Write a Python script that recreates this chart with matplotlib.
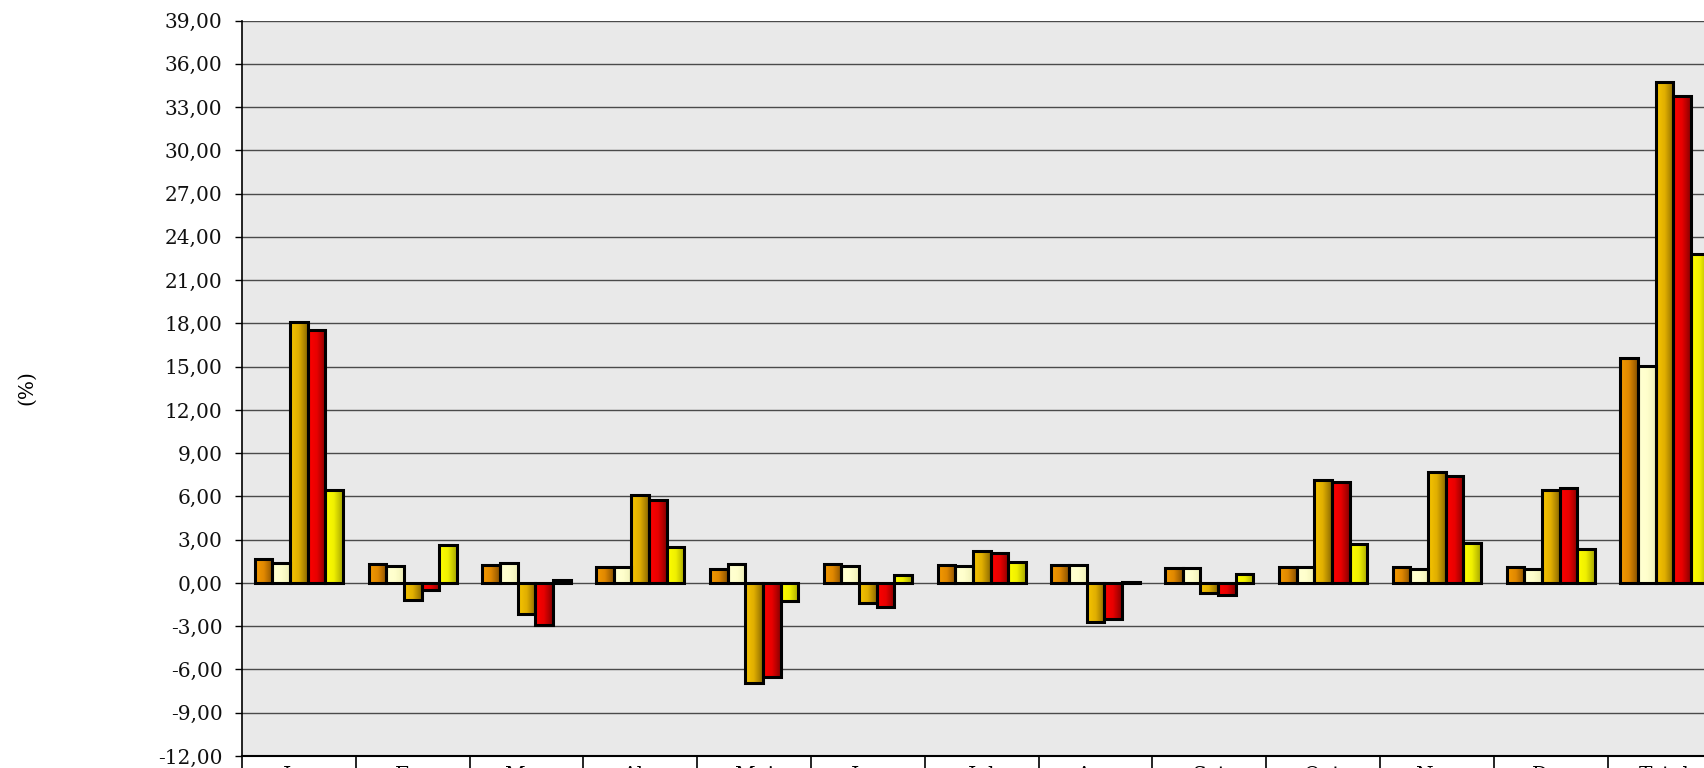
import numpy as np
import matplotlib
matplotlib.use("Agg")
import matplotlib.pyplot as plt
from matplotlib.colors import LinearSegmentedColormap
from matplotlib.ticker import FuncFormatter, MultipleLocator

categories = ['Jan', 'Fev', 'Mar', 'Abr', 'Mai', 'Jun', 'Jul', 'Ago', 'Set', 'Out', 'Nov', 'Dez', 'Total']
serie_1 = [1.69, 1.32, 1.27, 1.08, 0.99, 1.29, 1.25, 1.25, 1.05, 1.13, 1.13, 1.13, 15.58]
serie_2 = [1.41, 1.16, 1.41, 1.13, 1.29, 1.20, 1.18, 1.25, 1.05, 1.13, 0.98, 0.98, 15.03]
serie_3 = [18.13, -1.15, -2.13, 6.11, -6.96, -1.39, 2.20, -2.74, -0.70, 7.17, 7.68, 6.48, 34.73]
serie_4 = [17.52, -0.51, -2.89, 5.78, -6.51, -1.64, 2.10, -2.51, -0.85, 7.03, 7.45, 6.56, 33.76]
serie_5 = [6.46, 2.61, 0.23, 2.47, -1.28, 0.53, 1.48, 0.08, 0.60, 2.68, 2.78, 2.37, 22.82]

series = [serie_1, serie_2, serie_3, serie_4, serie_5]
gradients = [
    ['#F59A00', '#E08800', '#8A5200'],
    ['#FFFFD2', '#FFFFCC', '#F0F0B8'],
    ['#F7C600', '#E0AE00', '#8C6A00'],
    ['#FF0000', '#E80000', '#880000'],
    ['#FFFF00', '#F0F000', '#A8A800'],
]

fig = plt.figure(figsize=(17.04, 7.68), dpi=100)
ax = fig.add_axes([242 / 1704, 12 / 768, 1479.4 / 1704, 735.4 / 768])
ax.set_facecolor('#E9E9E9')

n = len(categories)
x = np.arange(n) + 0.5
bw = 0.155
grad = np.linspace(0, 1, 64).reshape(1, -1)

for k, vals in enumerate(series):
    cmap = LinearSegmentedColormap.from_list(f'g{k}', gradients[k])
    bars = ax.bar(x + (k - 2) * bw, vals, width=bw, facecolor='none',
                  edgecolor='black', linewidth=2.2, zorder=3)
    for b in bars:
        bx, by = b.get_x(), b.get_y()
        w, h = b.get_width(), b.get_height()
        y0, y1 = min(by, by + h), max(by, by + h)
        im = ax.imshow(grad, cmap=cmap, aspect='auto', extent=[bx, bx + w, y0, y1],
                       interpolation='bilinear', zorder=2.5)
        im.set_clip_path(b)

ax.set_xlim(0, n)
ax.set_ylim(-12, 39)

ax.yaxis.set_major_locator(MultipleLocator(3))
ax.yaxis.set_major_formatter(FuncFormatter(lambda v, p: f"{v:.2f}".replace('.', ',')))
ax.grid(axis='y', color='#4A4A4A', linewidth=1.0, zorder=1)
ax.set_axisbelow(True)

ax.set_xticks(np.arange(n + 1))
ax.set_xticklabels([])
ax.set_xticks(x, minor=True)
ax.set_xticklabels(categories, minor=True, fontsize=14.5, family='DejaVu Serif')
ax.tick_params(axis='x', which='major', length=16, width=1.2, direction='out', color='black')
ax.tick_params(axis='x', which='minor', length=0, pad=7)
ax.tick_params(axis='y', length=5, width=1.0, pad=9, labelsize=14.5, labelcolor='#111111')
for lab in ax.get_yticklabels():
    lab.set_family('DejaVu Serif')

for s in ['top', 'right']:
    ax.spines[s].set_visible(False)
ax.spines['left'].set_color('black')
ax.spines['left'].set_linewidth(1.2)
ax.spines['bottom'].set_color('black')
ax.spines['bottom'].set_linewidth(1.5)

fig.text(27 / 1704, 1 - 388 / 768, '(%)', rotation=90, ha='center', va='center',
         fontsize=14.5, family='DejaVu Serif')

fig.savefig('out.png', dpi=100)
